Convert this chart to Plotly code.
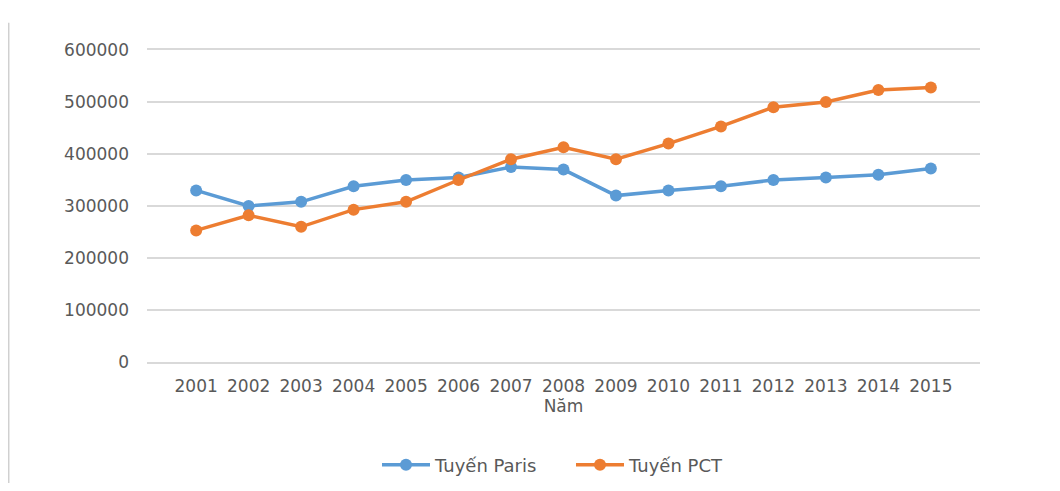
import plotly.graph_objects as go

years = [str(y) for y in range(2001, 2016)]
paris = [330000, 300000, 308000, 338000, 350000, 355000, 375000, 370000,
         320000, 330000, 338000, 350000, 355000, 360000, 372000]
pct = [253000, 282000, 260000, 293000, 308000, 350000, 390000, 413000,
       390000, 420000, 453000, 490000, 500000, 523000, 528000]
y_ticks = [0, 100000, 200000, 300000, 400000, 500000, 600000]

FONT = "DejaVu Sans"
GREY = "#595959"
GRID = "#D9D9D9"

fig = go.Figure()
fig.add_trace(go.Scatter(x=years, y=paris, name="Tuyến Paris", mode="lines+markers",
                         line=dict(color="#5B9BD5", width=3.5),
                         marker=dict(size=12, color="#5B9BD5")))
fig.add_trace(go.Scatter(x=years, y=pct, name="Tuyến PCT", mode="lines+markers",
                         line=dict(color="#ED7D31", width=3.5),
                         marker=dict(size=12, color="#ED7D31")))

fig.update_layout(
    width=1044, height=475,
    margin=dict(l=139, r=72, t=42, b=121, autoexpand=False),
    paper_bgcolor="white", plot_bgcolor="white",
    font=dict(family=FONT, size=17, color=GREY),
    showlegend=True,
    legend=dict(orientation="h", x=0.509, xanchor="center", y=-0.33, yanchor="middle",
                font=dict(family=FONT, size=18, color=GREY), itemwidth=48,
                entrywidth=131, entrywidthmode="pixels", tracegroupgap=0),
    xaxis=dict(type="category", showgrid=False, zeroline=False,
               showline=True, linecolor=GRID, linewidth=1.5, mirror=True,
               ticks="", automargin=False, ticklabelstandoff=8,
               tickfont=dict(family=FONT, size=17, color=GREY),
               title=dict(text="Năm", standoff=0, font=dict(family=FONT, size=17, color=GREY))),
    yaxis=dict(range=[0, 600000], tickvals=y_ticks, ticktext=[str(v) for v in y_ticks],
               showgrid=True, gridcolor=GRID, gridwidth=1.5, zeroline=False,
               showline=False, ticks="", ticklabelstandoff=17, automargin=False,
               tickfont=dict(family=FONT, size=17, color=GREY)),
    shapes=[dict(type="line", xref="paper", yref="paper",
                 x0=-0.166, x1=-0.166, y0=-0.404, y1=1.087,
                 line=dict(color="#D0D0D0", width=1.5))],
)

fig.write_html("out.html")
